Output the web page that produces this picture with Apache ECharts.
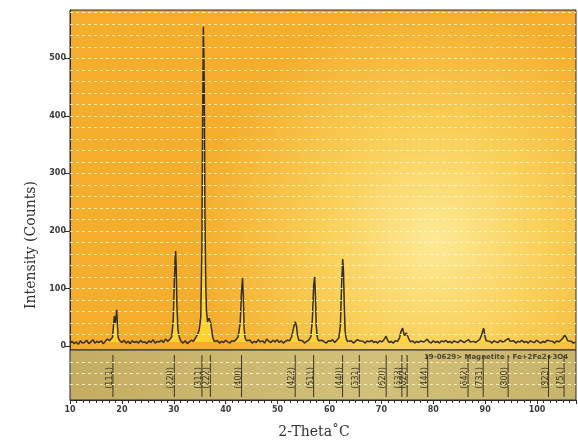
<!DOCTYPE html>
<html>
<head>
<meta charset="utf-8">
<script src="https://cdn.jsdelivr.net/npm/echarts@6.0.0/dist/echarts.min.js"></script>
<style>html,body{margin:0;padding:0;background:#fff;}#c{width:578px;height:441px;}</style>
</head>
<body>
<div id="c"></div>
<script>
// ---- data ----
const twoTheta = [10.0,10.4,10.8,11.2,11.6,12.0,12.4,12.8,13.2,13.6,14.0,14.4,14.8,15.2,15.6,16.0,16.4,16.8,17.2,17.6,18.2,18.4,18.55,18.7,18.85,19.0,19.15,19.3,19.6,20.0,20.4,20.8,21.2,21.6,22.0,22.4,22.8,23.2,23.6,24.0,24.4,24.8,25.2,25.6,26.0,26.4,26.8,27.2,27.6,28.0,28.4,28.8,29.2,29.6,29.9,30.1,30.25,30.35,30.45,30.6,30.8,31.1,31.4,31.8,32.2,32.6,33.0,33.4,33.8,34.2,34.6,34.9,35.2,35.4,35.55,35.7,35.85,36.0,36.15,36.3,36.5,36.8,37.1,37.3,37.5,37.8,38.1,38.4,38.8,39.2,39.6,40.0,40.4,40.8,41.2,41.6,42.0,42.4,42.8,43.05,43.25,43.4,43.55,43.75,44.0,44.3,44.7,45.1,45.5,45.9,46.3,46.7,47.1,47.5,47.9,48.3,48.7,49.1,49.5,49.9,50.3,50.7,51.1,51.5,51.9,52.3,52.7,53.1,53.4,53.65,53.85,54.1,54.4,54.8,55.2,55.6,56.0,56.4,56.7,56.95,57.15,57.3,57.45,57.65,57.9,58.2,58.6,59.0,59.4,59.8,60.2,60.6,61.0,61.4,61.8,62.1,62.35,62.55,62.7,62.85,63.0,63.2,63.45,63.8,64.2,64.6,65.0,65.4,65.8,66.1,66.5,66.9,67.3,67.7,68.1,68.5,68.9,69.3,69.7,70.1,70.5,70.9,71.2,71.5,71.9,72.3,72.7,73.1,73.5,73.8,74.1,74.3,74.5,74.8,75.1,75.3,75.6,76.0,76.4,76.8,77.2,77.6,78.0,78.4,78.8,79.2,79.6,80.0,80.4,80.8,81.2,81.6,82.0,82.4,82.8,83.2,83.6,84.0,84.4,84.8,85.2,85.6,86.0,86.4,86.8,87.1,87.4,87.8,88.2,88.6,89.0,89.4,89.7,89.95,90.2,90.5,90.9,91.3,91.7,92.1,92.5,92.9,93.3,93.7,94.1,94.5,94.8,95.1,95.5,95.9,96.3,96.7,97.1,97.5,97.9,98.3,98.7,99.1,99.5,99.9,100.3,100.7,101.1,101.5,101.9,102.3,102.6,103.0,103.4,103.8,104.2,104.6,105.0,105.3,105.6,105.9,106.2,106.6,107.0,107.4,107.5];
const counts = [5,8,4,7,3,9,5,6,10,4,7,11,5,8,6,9,4,8,12,9,15,38,52,40,48,63,33,14,9,6,10,5,8,4,9,6,8,5,10,6,7,4,9,6,11,5,8,7,10,6,12,8,11,16,45,110,150,165,140,70,28,14,8,5,9,4,7,10,8,14,20,28,50,160,380,555,470,230,110,60,42,48,40,28,15,8,7,9,5,8,6,10,7,5,9,8,11,16,40,95,118,85,30,14,9,6,10,5,8,6,11,7,9,5,12,8,6,10,7,11,6,9,5,8,10,9,16,32,42,34,18,10,7,9,5,8,10,16,45,105,120,85,35,15,9,6,10,7,5,9,8,11,6,10,14,35,110,151,130,70,28,14,8,6,9,5,8,11,9,6,8,5,9,7,10,6,8,5,9,7,11,17,10,6,8,5,9,8,14,26,31,22,18,23,20,12,7,9,5,8,6,9,7,8,12,7,5,9,6,8,5,9,7,10,6,8,5,9,7,6,10,8,6,9,11,7,5,8,6,9,12,22,31,17,9,6,8,5,9,7,6,10,7,8,11,13,8,6,9,5,8,7,10,6,8,5,9,7,6,10,7,5,8,6,10,9,6,8,5,9,7,10,14,19,15,9,6,8,5,7];
const refPos = [18.27,30.10,35.42,37.05,43.05,53.39,56.94,62.52,65.74,70.92,73.95,74.96,78.93,86.70,89.62,94.42,102.2,105.2];
const refHkl = ['(111)','(220)','(311)','(222)','(400)','(422)','(511)','(440)','(531)','(620)','(533)','(622)','(444)','(642)','(731)','(800)','(822)','(751)'];
const yTicks = [0,100,200,300,400,500];
const yGrid = [20,40,60,80,100,120,140,160,180,200,220,240,260,280,300,320,340,360,380,400,420,440,460,480,500,520,540,560,580];
const refGrid = [0.32,0.54,0.76];
const cardName = '19-0629> Magnetite - Fe+2Fe2+3O4';
const xTitle = '2-Theta\u02DAC';
const yTitle = 'Intensity (Counts)';

const pattern = twoTheta.map((t, i) => [t, counts[i]]);
const refData = refPos.map((p, i) => [p, refHkl[i]]);

const chart = echarts.init(document.getElementById('c'), null, {renderer: 'canvas'});
const labelFont = {fontSize: 8, fontWeight: 'bold', color: '#3a3a3a', fontFamily: 'DejaVu Sans'};
const dashed = {color: 'rgba(255,248,200,0.85)', width: 1, type: [3, 3]};

chart.setOption({
  animation: false,
  grid: [
    {left: 70, top: 10, width: 506, height: 340, show: true, borderColor: '#2b2b2b', borderWidth: 1,
     backgroundColor: {type: 'radial', x: 0.72, y: 0.68, r: 0.7,
       colorStops: [{offset: 0, color: '#fdea97'}, {offset: 0.45, color: '#f9d05a'}, {offset: 1, color: '#f4ad2d'}]}},
    {left: 70, top: 350, width: 506, height: 50, show: true, borderColor: '#2b2b2b', borderWidth: 1,
     backgroundColor: {type: 'linear', x: 0, y: 0, x2: 1, y2: 0,
       colorStops: [{offset: 0, color: '#c4ad62'}, {offset: 0.6, color: '#d2c07a'}, {offset: 1, color: '#c8b36a'}]}}
  ],
  xAxis: [
    {gridIndex: 0, type: 'value', min: 10, max: 107.5, interval: 10,
     axisLine: {show: false}, axisTick: {show: false}, axisLabel: {show: false}, splitLine: {show: false}},
    {gridIndex: 1, type: 'value', min: 10, max: 107.5, interval: 10,
     axisLine: {show: true, lineStyle: {color: '#2b2b2b'}},
     axisTick: {show: true, length: 4, lineStyle: {color: '#2b2b2b'}},
     minorTick: {show: true, splitNumber: 8, length: 3, lineStyle: {color: '#2b2b2b'}},
     axisLabel: Object.assign({margin: 6, showMaxLabel: false}, labelFont),
     splitLine: {show: false}}
  ],
  yAxis: [
    {gridIndex: 0, type: 'value', min: -7, max: 584,
     axisLine: {show: true, lineStyle: {color: '#2b2b2b'}},
     axisTick: {show: true, length: 5, customValues: yTicks, lineStyle: {color: '#2b2b2b'}},
     axisLabel: Object.assign({margin: 4, customValues: yTicks}, labelFont),
     splitLine: {show: false}},
    {gridIndex: 1, type: 'value', min: 0, max: 1, show: false, splitLine: {show: false}}
  ],
  series: [
    {type: 'line', xAxisIndex: 0, yAxisIndex: 0, data: pattern, symbol: 'none', silent: true,
     lineStyle: {color: '#332e27', width: 1.5},
     areaStyle: {color: '#ffd633', opacity: 0.9, origin: 7},
     markLine: {silent: true, symbol: 'none', label: {show: false}, lineStyle: dashed,
       data: yGrid.map(v => ({yAxis: v}))}, z: 3},
    {type: 'line', xAxisIndex: 1, yAxisIndex: 1, data: [], symbol: 'none', silent: true,
     markLine: {silent: true, symbol: 'none', label: {show: false}, lineStyle: dashed,
       data: refGrid.map(v => ({yAxis: v}))}},
    {type: 'custom', xAxisIndex: 1, yAxisIndex: 1, data: refData, silent: true,
     renderItem: function (params, api) {
       const x = api.value(0);
       const p0 = api.coord([x, 0.06]);
       const p1 = api.coord([x, 0.9]);
       return {type: 'group', children: [
         {type: 'line', shape: {x1: p0[0], y1: p0[1], x2: p1[0], y2: p1[1]}, style: {stroke: '#3a3526', lineWidth: 1}},
         {type: 'text', x: p0[0] - 3, y: (p0[1] + p1[1]) / 2 + 2, rotation: Math.PI / 2,
          style: {text: refHkl[params.dataIndex], fontSize: 8, fontFamily: 'DejaVu Sans', fill: '#3a3526', align: 'center', verticalAlign: 'middle'}}
       ]};
     }}
  ],
  graphic: [
    {type: 'text', left: 424, top: 354, style: {text: cardName, fontSize: 7, fontWeight: 'bold', fontFamily: 'DejaVu Sans', fill: '#4a4530'}},
    {type: 'text', x: 31, y: 245, rotation: Math.PI / 2,
     style: {text: yTitle, fontSize: 14, fontFamily: 'DejaVu Serif', fill: '#333', align: 'center', verticalAlign: 'middle'}},
    {type: 'text', x: 314, y: 432,
     style: {text: xTitle, fontSize: 14, fontFamily: 'DejaVu Serif', fill: '#333', align: 'center', verticalAlign: 'middle'}}
  ]
});
</script>
</body>
</html>
